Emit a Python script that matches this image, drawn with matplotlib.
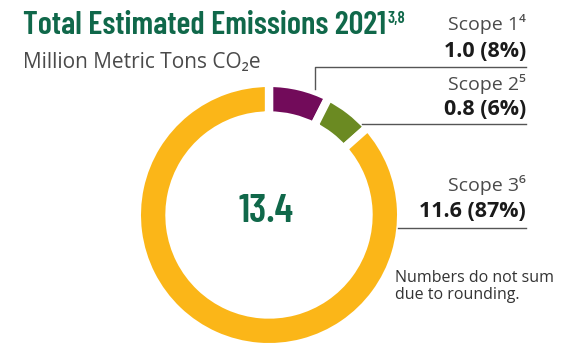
import matplotlib
matplotlib.use('Agg')
import matplotlib.pyplot as plt

# emissions by scope, million metric tons CO2e
scopes = ['Scope 1', 'Scope 2', 'Scope 3']
notes = ['\u2074', '\u2075', '\u2076']
values = [1.0, 0.8, 11.6]
shares = [8, 6, 87]
total = 13.4
colors = ['#720b5a', '#6b8a22', '#fbb618']

green = '#10684a'
grey = '#4a4a4a'
body = ['Open Sans', 'Noto Sans', 'DejaVu Sans']
narrow = ['Barlow Condensed', 'DejaVu Sans']

fig = plt.figure(figsize=(5.73, 3.43), dpi=100)

# donut
ax = fig.add_axes([141 / 573, 0, 256 / 573, 256 / 343])
lw = 6
pad = lw / 2 / 72 * 100 / 128
ax.pie(values, colors=colors, startangle=90, counterclock=False, radius=1 + pad,
       wedgeprops=dict(width=0.19 + 2 * pad, edgecolor='white', linewidth=lw))
ax.set_xlim(-1, 1)
ax.set_ylim(-1, 1)
ax.set_aspect('equal')
ax.axis('off')
ax.text(-0.02, 0.02, f'{total:.1f}', ha='center', va='center', fontsize=29,
        fontweight='semibold', color=green, family=narrow)

# overlay in pixel coordinates for titles, labels and leader lines
ov = fig.add_axes([0, 0, 1, 1])
ov.set_xlim(0, 573)
ov.set_ylim(343, 0)
ov.axis('off')

t = ov.text(23, 34, 'Total Estimated Emissions 2021', ha='left', va='baseline',
            fontsize=23.5, fontweight='semibold', color=green, family=narrow)
fig.canvas.draw()
bb = t.get_window_extent()
ov.text(bb.x1 + 1, 23, '3,8', ha='left', va='baseline', fontsize=12,
        fontweight='semibold', color=green, family=narrow)
ov.text(23, 68, 'Million Metric Tons CO\u2082e', ha='left', va='baseline',
        fontsize=15, color=grey, family=body)

label_y = [(30, 57), (90, 115), (191, 217)]
for i in range(3):
    ov.text(526, label_y[i][0], scopes[i] + notes[i], ha='right', va='baseline',
            fontsize=14, color=grey, family=body)
    ov.text(526, label_y[i][1], f'{values[i]:.1f} ({shares[i]}%)', ha='right',
            va='baseline', fontsize=15.5, fontweight='bold', color='#1a1a1a', family=body)

lc = '#555555'
ov.plot([315, 315, 526], [89, 67, 67], color=lc, lw=1)
ov.plot([362, 526], [124, 124], color=lc, lw=1)
ov.plot([398, 526], [228, 228], color=lc, lw=1)

ov.text(395, 299, 'Numbers do not sum\ndue to rounding.', ha='left', va='baseline',
        fontsize=11.5, color='#333333', family=body, linespacing=1.1)

fig.savefig('out.png', dpi=100)
